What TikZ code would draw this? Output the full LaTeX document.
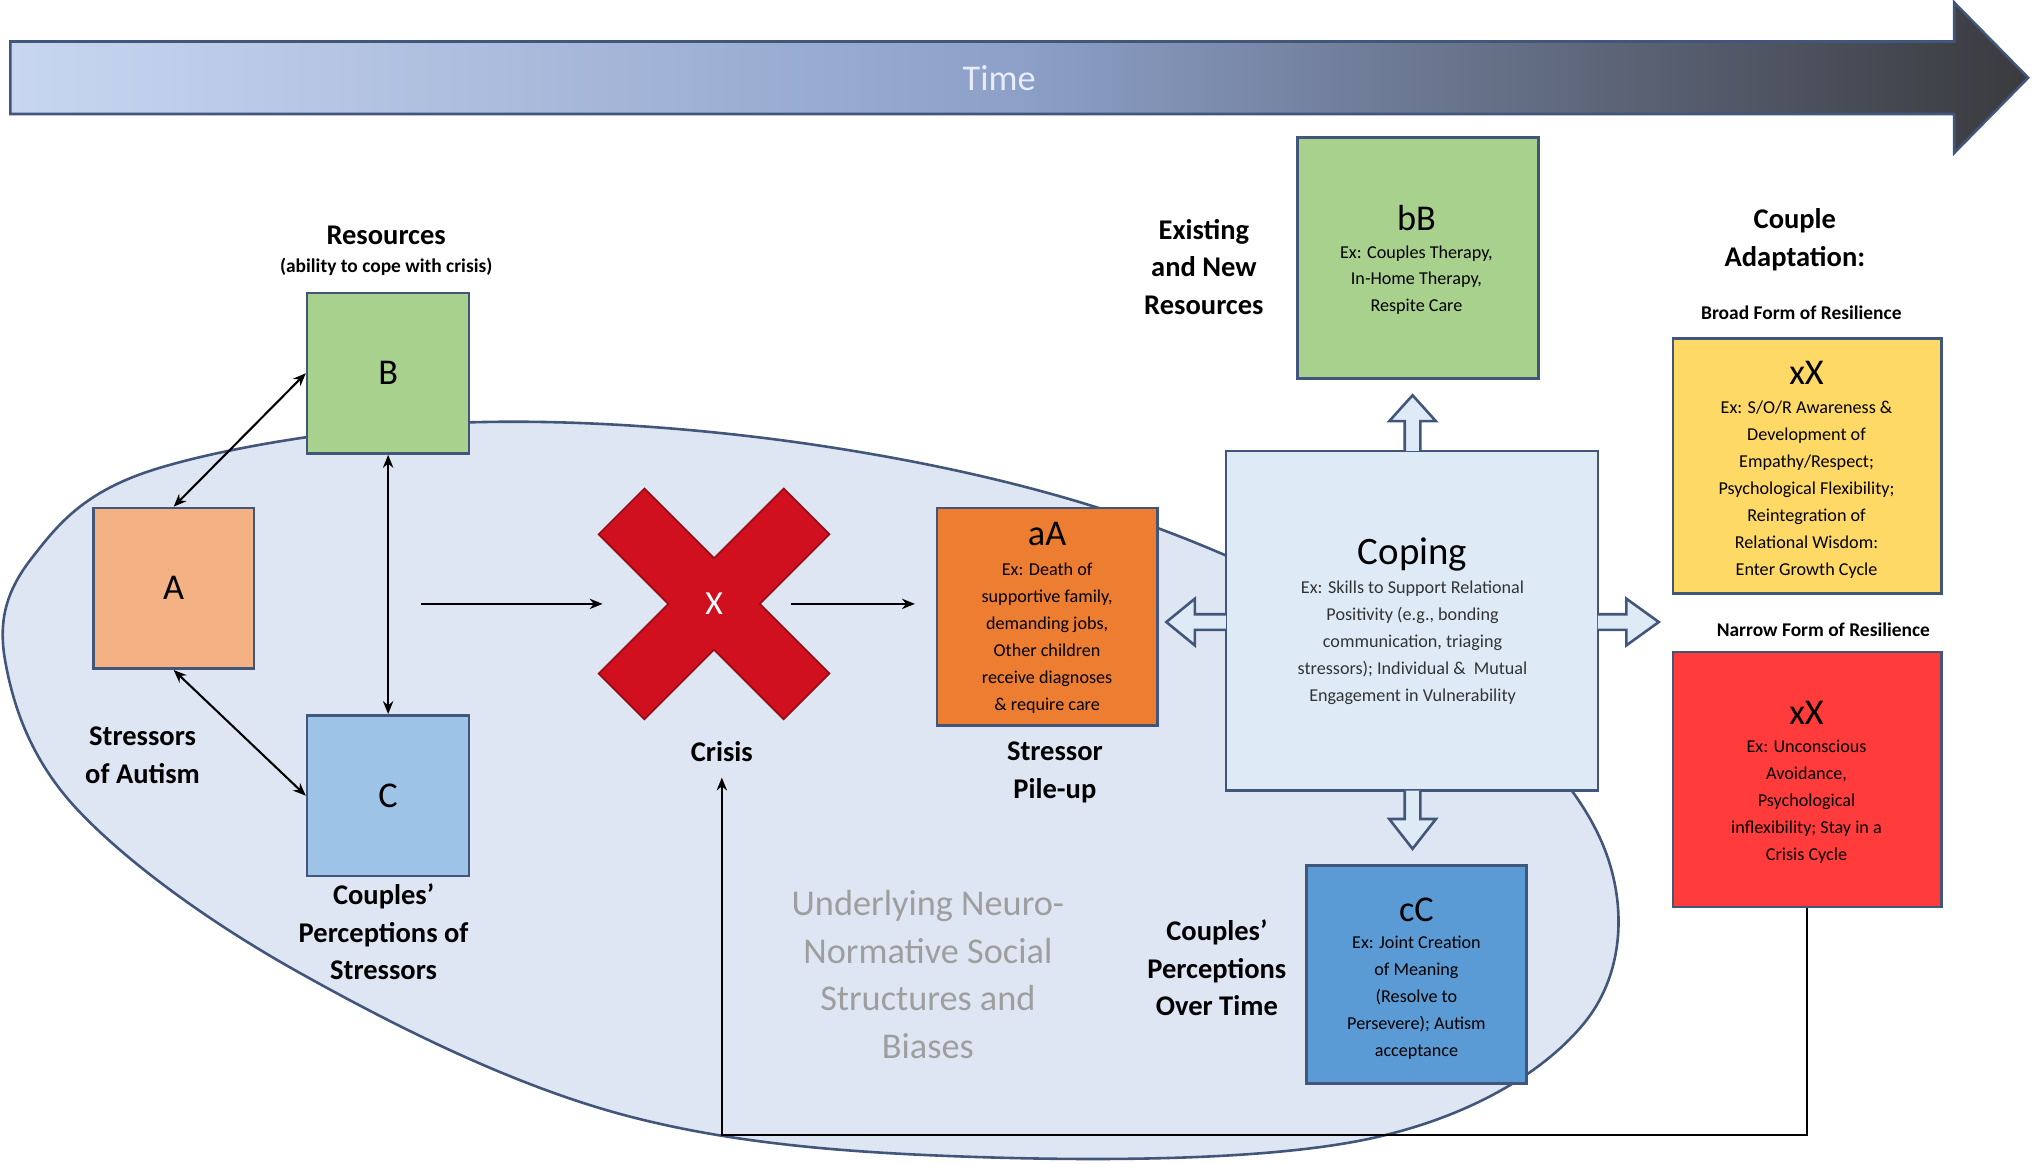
\documentclass[tikz,border=0pt]{standalone}
\usepackage{fontspec}
\setmainfont{Carlito}
\usetikzlibrary{arrows.meta,shadings}
\definecolor{edge}{HTML}{41567A}
\definecolor{blob}{HTML}{DFE6F3}
\definecolor{cA}{HTML}{F4B183}
\definecolor{cB}{HTML}{A9D18E}
\definecolor{cC}{HTML}{9DC3E6}
\definecolor{cCC}{HTML}{5B9BD5}
\definecolor{orng}{HTML}{ED7D31}
\definecolor{cop}{HTML}{DEEBF7}
\definecolor{yel}{HTML}{FFD966}
\definecolor{rd}{HTML}{FF3B3B}
\definecolor{xr}{HTML}{D0101E}
\begin{document}
\begin{tikzpicture}[x=0.5pt,y=-0.5pt,
 box/.style={draw=edge,line width=1pt,inner sep=0pt,minimum width=#1},
 lab/.style={font=\bfseries\fontsize{11}{14.5}\selectfont,align=center},
 small/.style={font=\fontsize{7}{10.4}\selectfont,align=center,inner sep=0pt},
 big/.style={font=\fontsize{14}{16}\selectfont},
 arr/.style={-{Stealth[length=5pt,width=4pt]},line width=0.8pt},
 barr/.style={{Stealth[length=5pt,width=4pt]}-{Stealth[length=5pt,width=4pt]},line width=0.8pt},
 blk/.style={draw=edge,fill=cop,line width=1pt,line join=miter}]
\useasboundingbox (0,0) rectangle (1568,898);
% time arrow
\shade[left color={rgb,255:red,200;green,214;blue,240},right color={rgb,255:red,58;green,58;blue,62},middle color={rgb,255:red,140;green,160;blue,200}]
 (8,32) -- (1508,32) -- (1508,2) -- (1565,60) -- (1508,118) -- (1508,88) -- (8,88) -- cycle;
\draw[edge,line width=1pt] (8,32) -- (1508,32) -- (1508,2) -- (1565,60) -- (1508,118) -- (1508,88) -- (8,88) -- cycle;
\node[text=white!92!blue,font=\fontsize{14}{16}\selectfont] (time) at (771,60) {Time};
% blob
\draw[edge,fill=blob,line width=1pt] plot[smooth cycle,tension=0.6] coordinates
 {(360,326) (640,345) (900,410) (1130,530) (1240,660) (1222,790) (1060,878) (760,893) (480,860) (230,750) (60,625) (4,510) (25,430) (120,362)};
% boxes
\node[box=124pt/2,minimum height=124pt/2,fill=cA] (A) at (134,454) {\fontsize{14}{16}\selectfont A};
\node[box=125pt/2,minimum height=124pt/2,fill=cB] (B) at (299.5,288) {\fontsize{14}{16}\selectfont B};
\node[box=125pt/2,minimum height=124pt/2,fill=cC] (C) at (299.5,614) {\fontsize{14}{16}\selectfont C};
\draw[barr] (A.north) -- (B.west);
\draw[barr] (A.south) -- (C.west);
\draw[barr] (B.south) -- (C.north);
\node[lab] (res) at (298,182) {Resources};
\node[font=\bfseries\fontsize{7.5}{9}\selectfont] (res2) at (298,206) {(ability to cope with crisis)};
\node[lab] (soa) at (110,583) {Stressors\\of Autism};
\node[lab] (cps) at (296,719) {Couples'\\Perceptions of\\Stressors};
% crisis X
\begin{scope}[shift={(551,466)},rotate=45]
\fill[xr,draw=xr!70!black,line width=0.6pt] (101,25)--(25,25)--(25,101)--(-25,101)--(-25,25)--(-101,25)--(-101,-25)--(-25,-25)--(-25,-101)--(25,-101)--(25,-25)--(101,-25)--cycle;
\end{scope}
\node[text=white,font=\fontsize{13}{15}\selectfont] (X) at (551,466) {X};
\coordinate (s0) at (325,466);
\coordinate (x0) at (465,466);
\coordinate (x1) at (610,466);
\coordinate (a0) at (706,466);
\draw[arr] (s0) -- (x0);
\draw[arr] (x1) -- (a0);
\node[lab] (crisis) at (557,580) {Crisis};
% aA
\node[box=170pt/2,minimum height=168pt/2,fill=orng] (aA) at (808,476) {};
\node[big,anchor=north] (aAt) at (808,396) {aA};
\node[small,anchor=north] (aAx) at (808,434) {Ex: Death of\\supportive family,\\demanding jobs,\\Other children\\receive diagnoses\\\& require care};
\node[lab] (spu) at (814,596) {Stressor\\Pile-up};
% coping
\node[box=287pt/2,minimum height=262pt/2,fill=cop] (cope) at (1089.5,479) {};
\node[font=\fontsize{15}{17}\selectfont] (copet) at (1090,428) {Coping};
\node[small,anchor=north,text=black!80] (copex) at (1090,448) {Ex: Skills to Support Relational\\Positivity (e.g., bonding\\communication, triaging\\stressors); Individual \& \ Mutual\\Engagement in Vulnerability};
% block arrows
\draw[blk] (1084,348)--(1084,325)--(1072,325)--(1090,305)--(1108,325)--(1096,325)--(1096,348);
\draw[blk] (1084,610)--(1084,632)--(1072,632)--(1090,655)--(1108,632)--(1096,632)--(1096,610);
\draw[blk] (946,474)--(922,474)--(922,462)--(900,480)--(922,498)--(922,486)--(946,486);
\draw[blk] (1233,474)--(1255,474)--(1255,462)--(1280,480)--(1255,498)--(1255,486)--(1233,486);
% bB
\node[box=186pt/2,minimum height=186pt/2,fill=cB] (bB) at (1094,199) {};
\node[big] (bBt) at (1093,168) {bB};
\node[small,anchor=north] (bBx) at (1093,189) {Ex: Couples Therapy,\\In-Home Therapy,\\Respite Care};
\node[lab] (enr) at (929,206) {Existing\\and New\\Resources};
% cC
\node[box=170pt/2,minimum height=168pt/2,fill=cCC] (cC) at (1093,752) {};
\node[big] (cCt) at (1093,702) {cC};
\node[small,anchor=north] (cCx) at (1093,722) {Ex: Joint Creation\\of Meaning\\(Resolve to\\Persevere); Autism\\acceptance};
\node[lab] (cpot) at (939,747) {Couples'\\Perceptions\\Over Time};
% adaptation
\node[lab] (ca) at (1385,185) {Couple\\Adaptation:};
\node[font=\bfseries\fontsize{7.5}{9}\selectfont] (bfr) at (1390,241) {Broad Form of Resilience};
\node[box=207pt/2,minimum height=197pt/2,fill=yel] (Y) at (1394.5,359.5) {};
\node[big] (Yt) at (1394,288) {xX};
\node[small,anchor=north] (Yx) at (1394,309) {Ex: S/O/R Awareness \&\\Development of\\Empathy/Respect;\\Psychological Flexibility;\\Reintegration of\\Relational Wisdom:\\Enter Growth Cycle};
\node[font=\bfseries\fontsize{7.5}{9}\selectfont] (nfr) at (1407,486) {Narrow Form of Resilience};
\node[box=207pt/2,minimum height=197pt/2,fill=rd] (R) at (1394.5,601.5) {};
\node[big] (Rt) at (1394,550) {xX};
\node[small,anchor=north] (Rx) at (1394,571) {Ex: Unconscious\\Avoidance,\\Psychological\\inflexibility; Stay in a\\Crisis Cycle};
% feedback
\coordinate (fb) at (557,600);
\draw[arr] (R.south) |- (557,876) -- (fb);
% underlying
\node[text=black!38,align=center,font=\fontsize{14}{18.5}\selectfont] (und) at (716,752) {Underlying Neuro-\\Normative Social\\Structures and\\Biases};
\end{tikzpicture}
\end{document}
